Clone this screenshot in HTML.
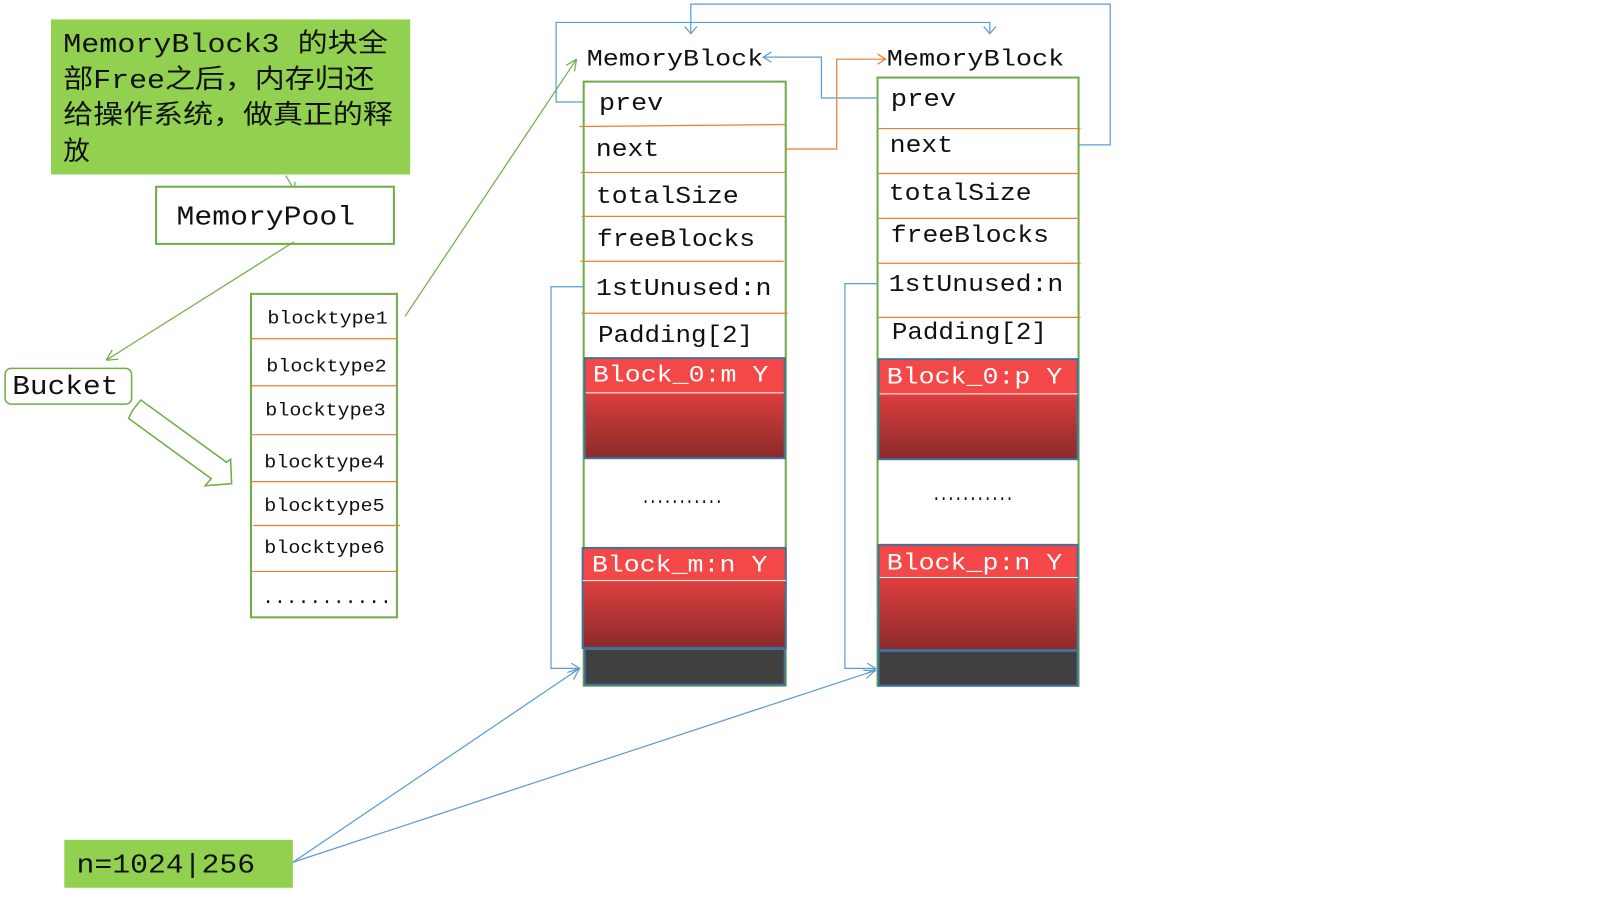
<!DOCTYPE html>
<html><head><meta charset="utf-8"><style>
html,body{margin:0;padding:0;background:#fff;}
svg{display:block;}
text{font-family:"Liberation Mono","Noto Sans CJK SC",monospace;}
</style></head><body>
<svg width="1600" height="900" viewBox="0 0 1568 882" xmlns="http://www.w3.org/2000/svg">
<defs>
<linearGradient id="rg" x1="0" y1="0" x2="0" y2="1">
<stop offset="0" stop-color="#f04444"/><stop offset="0.35" stop-color="#dc3e3e"/><stop offset="1" stop-color="#8a2a2a"/>
</linearGradient>
</defs>
<rect x="0" y="0" width="1568" height="882" fill="#fff"/>

<!-- top-left note -->
<rect x="50" y="19" width="352" height="152" fill="#92d050"/>
<g font-size="26" fill="#111" lengthAdjust="spacingAndGlyphs">
<text x="62" y="51" textLength="318" lengthAdjust="spacingAndGlyphs">MemoryBlock3 的块全</text>
<text x="62" y="86" textLength="305" lengthAdjust="spacingAndGlyphs">部Free之后，内存归还</text>
<text x="62" y="121" textLength="323" lengthAdjust="spacingAndGlyphs">给操作系统，做真正的释</text>
<text x="62" y="157">放</text>
</g>
<path d="M280 172 L289 187 M281 183 L289 187 L289 178" stroke="#70ad47" stroke-width="1.2" fill="none"/>

<!-- MemoryPool -->
<rect x="153" y="183" width="233" height="56" fill="#fff" stroke="#70ad47" stroke-width="2"/>
<text x="173" y="220" font-size="26" fill="#111" textLength="175" lengthAdjust="spacingAndGlyphs">MemoryPool</text>
<path d="M288 237 L104 353 M104 353 L110 343 M104 353 L116 352" stroke="#70ad47" stroke-width="1.2" fill="none"/>

<!-- Bucket -->
<rect x="5" y="361" width="124" height="35" rx="6" fill="#fff" stroke="#70ad47" stroke-width="1.5"/>
<text x="12" y="386" font-size="26" fill="#111" textLength="104" lengthAdjust="spacingAndGlyphs">Bucket</text>
<polygon points="130,402 138,392 222,453 226,450 227,474 201,476 207,469 126,410" fill="#fff" stroke="#70ad47" stroke-width="1.5"/>

<!-- blocktype list -->
<rect x="246" y="288" width="143" height="317" fill="#fff" stroke="#70ad47" stroke-width="2"/>
<g stroke="#ed7d31" stroke-width="1.2">
<line x1="246" y1="332" x2="389" y2="332"/><line x1="246" y1="378" x2="389" y2="378"/>
<line x1="246" y1="426" x2="389" y2="426"/><line x1="246" y1="472" x2="389" y2="472"/>
<line x1="248" y1="515" x2="392" y2="515"/><line x1="247" y1="560" x2="390" y2="560"/>
</g>
<g font-size="18" fill="#111">
<text x="262" y="317" textLength="118" lengthAdjust="spacingAndGlyphs">blocktype1</text>
<text x="261" y="364" textLength="118" lengthAdjust="spacingAndGlyphs">blocktype2</text>
<text x="260" y="407" textLength="118" lengthAdjust="spacingAndGlyphs">blocktype3</text>
<text x="259" y="458" textLength="118" lengthAdjust="spacingAndGlyphs">blocktype4</text>
<text x="259" y="501" textLength="118" lengthAdjust="spacingAndGlyphs">blocktype5</text>
<text x="259" y="542" textLength="118" lengthAdjust="spacingAndGlyphs">blocktype6</text>
<text x="257" y="591" textLength="127" lengthAdjust="spacingAndGlyphs">...........</text>
</g>
<path d="M397 310 L565 58 M565 58 L555 64 M565 58 L563 70" stroke="#70ad47" stroke-width="1.2" fill="none"/>

<!-- Left MemoryBlock -->
<text x="575" y="64" font-size="23" fill="#111" textLength="173" lengthAdjust="spacingAndGlyphs">MemoryBlock</text>
<rect x="572" y="80" width="198" height="592" fill="#fff" stroke="#70ad47" stroke-width="2"/>
<g stroke="#ed7d31" stroke-width="1.2">
<line x1="568" y1="124" x2="770" y2="122"/><line x1="569" y1="169" x2="770" y2="169"/>
<line x1="570" y1="212" x2="770" y2="212"/><line x1="569" y1="256" x2="768" y2="256"/>
<line x1="570" y1="307" x2="772" y2="307"/>
</g>
<g font-size="24" fill="#111">
<text x="587" y="108" textLength="63" lengthAdjust="spacingAndGlyphs">prev</text>
<text x="584" y="153" textLength="62" lengthAdjust="spacingAndGlyphs">next</text>
<text x="584" y="199" textLength="140" lengthAdjust="spacingAndGlyphs">totalSize</text>
<text x="585" y="241" textLength="155" lengthAdjust="spacingAndGlyphs">freeBlocks</text>
<text x="584" y="289" textLength="172" lengthAdjust="spacingAndGlyphs">1stUnused:n</text>
<text x="586" y="335" textLength="152" lengthAdjust="spacingAndGlyphs">Padding[2]</text>
</g>
<rect x="573" y="351" width="196" height="98" fill="url(#rg)" stroke="#41719c" stroke-width="2"/>
<rect x="574" y="352" width="194" height="33" fill="#f44848"/>
<line x1="574" y1="385" x2="768" y2="385" stroke="#fff" stroke-width="1"/>
<text x="581" y="374" font-size="23" fill="#fff" textLength="172" lengthAdjust="spacingAndGlyphs">Block_0:m Y</text>
<text x="629" y="493" font-size="18" fill="#111" font-weight="bold" textLength="79" lengthAdjust="spacingAndGlyphs">...........</text>
<rect x="571" y="537" width="199" height="98" fill="url(#rg)" stroke="#41719c" stroke-width="2"/>
<rect x="572" y="538" width="197" height="31" fill="#f44848"/>
<line x1="571" y1="569" x2="770" y2="569" stroke="#fff" stroke-width="1"/>
<text x="580" y="560" font-size="23" fill="#fff" textLength="172" lengthAdjust="spacingAndGlyphs">Block_m:n Y</text>
<rect x="573" y="636" width="196" height="35" fill="#404040" stroke="#41719c" stroke-width="2"/>

<!-- Right MemoryBlock -->
<text x="869" y="64" font-size="23" fill="#111" textLength="174" lengthAdjust="spacingAndGlyphs">MemoryBlock</text>
<rect x="860" y="76" width="197" height="596" fill="#fff" stroke="#70ad47" stroke-width="2"/>
<g stroke="#ed7d31" stroke-width="1.2">
<line x1="860" y1="126" x2="1059" y2="126"/><line x1="860" y1="170" x2="1058" y2="170"/>
<line x1="860" y1="214" x2="1058" y2="214"/><line x1="860" y1="258" x2="1059" y2="258"/>
<line x1="860" y1="311" x2="1059" y2="311"/>
</g>
<g font-size="24" fill="#111">
<text x="873" y="104" textLength="64" lengthAdjust="spacingAndGlyphs">prev</text>
<text x="872" y="149" textLength="62" lengthAdjust="spacingAndGlyphs">next</text>
<text x="871" y="196" textLength="140" lengthAdjust="spacingAndGlyphs">totalSize</text>
<text x="873" y="237" textLength="155" lengthAdjust="spacingAndGlyphs">freeBlocks</text>
<text x="871" y="285" textLength="171" lengthAdjust="spacingAndGlyphs">1stUnused:n</text>
<text x="874" y="332" textLength="152" lengthAdjust="spacingAndGlyphs">Padding[2]</text>
</g>
<rect x="861" y="352" width="195" height="98" fill="url(#rg)" stroke="#41719c" stroke-width="2"/>
<rect x="862" y="353" width="193" height="33" fill="#f44848"/>
<line x1="862" y1="386" x2="1056" y2="386" stroke="#fff" stroke-width="1"/>
<text x="869" y="376" font-size="23" fill="#fff" textLength="172" lengthAdjust="spacingAndGlyphs">Block_0:p Y</text>
<text x="914" y="490" font-size="18" fill="#111" font-weight="bold" textLength="79" lengthAdjust="spacingAndGlyphs">...........</text>
<rect x="861" y="534" width="195" height="103" fill="url(#rg)" stroke="#41719c" stroke-width="2"/>
<rect x="862" y="535" width="193" height="31" fill="#f44848"/>
<line x1="862" y1="566" x2="1056" y2="566" stroke="#fff" stroke-width="1"/>
<text x="869" y="558" font-size="23" fill="#fff" textLength="172" lengthAdjust="spacingAndGlyphs">Block_p:n Y</text>
<rect x="861" y="638" width="195" height="34" fill="#404040" stroke="#41719c" stroke-width="2"/>

<!-- connectors -->
<g stroke="#5b9bd5" stroke-width="1.2" fill="none">
<path d="M1057 142 L1088 142 L1088 4 L677 4 L677 33"/><path d="M671 26 L677 33 L683 26"/>
<path d="M572 100 L545 100 L545 22 L970 22 L970 33"/><path d="M964 26 L970 33 L976 26"/>
<path d="M860 96 L805 96 L805 56 L748 56"/><path d="M756 51 L748 56 L756 61"/>
<path d="M572 281 L540 281 L540 655 L568 655"/><path d="M560 650 L568 655 L560 660"/>
<path d="M860 278 L828 278 L828 655 L858 655"/><path d="M850 650 L858 655 L850 660"/>
<path d="M287 845 L568 655"/><path d="M556 659 L568 655 L562 666"/>
<path d="M287 845 L858 657"/><path d="M846 657 L858 657 L849 665"/>
</g>
<g stroke="#ed7d31" stroke-width="1.2" fill="none">
<path d="M770 146 L820 146 L820 58 L868 58"/><path d="M860 53 L868 58 L860 63"/>
</g>

<!-- n box -->
<rect x="63" y="823" width="224" height="47" fill="#92d050"/>
<text x="75" y="855" font-size="26" fill="#111" textLength="175" lengthAdjust="spacingAndGlyphs">n=1024|256</text>
</svg>
</body></html>
